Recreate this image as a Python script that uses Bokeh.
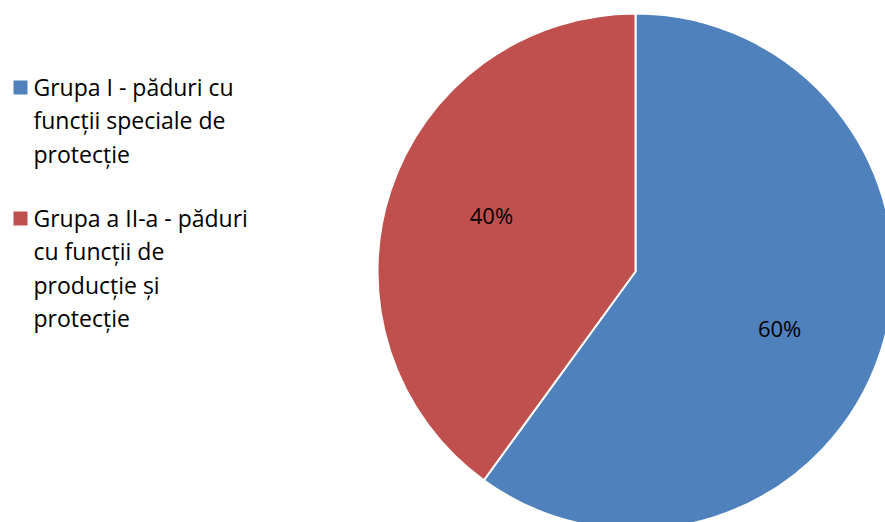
import math
from bokeh.plotting import figure
from bokeh.models import Range1d, ColumnDataSource
from bokeh.core.properties import value
from bokeh.embed import file_html
from bokeh.resources import INLINE

categories = ["Grupa I - păduri cu funcții speciale de protecție",
              "Grupa a II-a - păduri cu funcții de producție și protecție"]
values = [60, 40]
colors = ["#4F81BD", "#C0504D"]
legend_lines = [["Grupa I - păduri cu", "funcții speciale de", "protecție"],
                ["Grupa a II-a - păduri", "cu funcții de", "producție și", "protecție"]]

W, H = 885, 522
cx, cy, R = 635, 271, 258  # pixel centre and radius within the figure

p = figure(width=W, height=H, output_backend="svg", toolbar_location=None,
           x_range=Range1d(-cx, W - cx), y_range=Range1d(cy - H, cy),
           min_border=0, outline_line_color=None)
p.axis.visible = False
p.grid.visible = False
p.background_fill_color = "white"
p.border_fill_color = "white"

total = sum(values)
starts, ends, lx, ly, labels = [], [], [], [], []
cum = 0
for v in values:
    a0 = math.pi / 2 - 2 * math.pi * cum / total
    cum += v
    a1 = math.pi / 2 - 2 * math.pi * cum / total
    starts.append(a0)
    ends.append(a1)
    mid = (a0 + a1) / 2 - 0.06
    lx.append(0.6 * R * math.cos(mid))
    ly.append(0.6 * R * math.sin(mid))
    labels.append(f"{round(100 * v / total)}%")

src = ColumnDataSource(dict(start=starts, end=ends, color=colors))
p.wedge(x=0, y=0, radius=R, start_angle="start", end_angle="end", direction="clock",
        fill_color="color", line_color="white", line_width=2, source=src)

p.text(x=lx, y=ly, text=labels, text_font=value("Open Sans"), text_font_size="22px",
       text_color="#000000", text_align="center", text_baseline="middle")

# legend
tops = [86, 217]
lh = 33.5
for i, lines in enumerate(legend_lines):
    y0 = cy - tops[i]
    p.scatter(x=[20 - cx], y=[y0 - 1], marker="square", size=14, fill_color=colors[i], line_color=None)
    ys = [y0 - k * lh for k in range(len(lines))]
    p.text(x=[33 - cx] * len(lines), y=ys, text=lines, text_font=value("Open Sans"),
           text_font_size="23px", text_color="#000000", text_align="left", text_baseline="middle")

open("out.html", "w").write(file_html(p, INLINE))
